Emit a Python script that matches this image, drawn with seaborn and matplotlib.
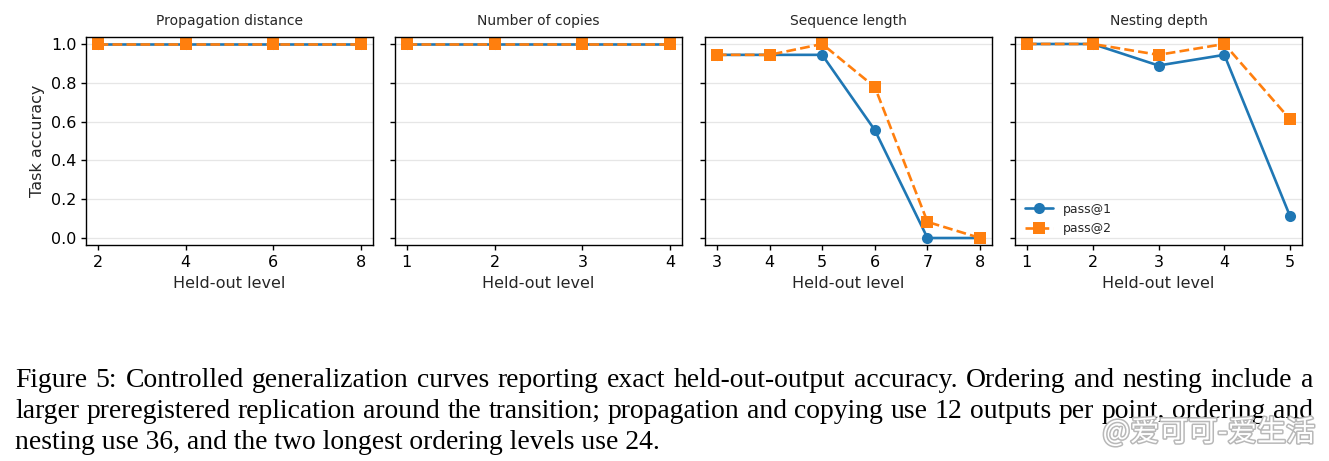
import numpy as np
import pandas as pd
from matplotlib import pyplot as plt
import matplotlib.patheffects as pe
import seaborn as sns

# data
titles = ["Propagation distance", "Number of copies", "Sequence length", "Nesting depth"]
levels_prop = [2, 4, 6, 8]
levels_copy = [1, 2, 3, 4]
levels_seq = [3, 4, 5, 6, 7, 8]
levels_nest = [1, 2, 3, 4, 5]

pass1_prop = [1.0, 1.0, 1.0, 1.0]
pass2_prop = [1.0, 1.0, 1.0, 1.0]
pass1_copy = [1.0, 1.0, 1.0, 1.0]
pass2_copy = [1.0, 1.0, 1.0, 1.0]
pass1_seq = [0.944, 0.944, 0.944, 0.556, 0.0, 0.0]
pass2_seq = [0.944, 0.944, 1.0, 0.778, 0.083, 0.0]
pass1_nest = [1.0, 1.0, 0.889, 0.944, 0.111]
pass2_nest = [1.0, 1.0, 0.944, 1.0, 0.611]

caption_lines = [
    "Figure 5: Controlled generalization curves reporting exact held-out-output accuracy. Ordering and nesting include a",
    "larger preregistered replication around the transition; propagation and copying use 12 outputs per point, ordering and",
    "nesting use 36, and the two longest ordering levels use 24.",
]


def make_df(levels, p1, p2):
    df = pd.DataFrame({"level": levels + levels,
                       "acc": p1 + p2,
                       "metric": ["pass@1"] * len(levels) + ["pass@2"] * len(levels)})
    return df


panels = [
    make_df(levels_prop, pass1_prop, pass2_prop),
    make_df(levels_copy, pass1_copy, pass2_copy),
    make_df(levels_seq, pass1_seq, pass2_seq),
    make_df(levels_nest, pass1_nest, pass2_nest),
]

sns.set_theme(style="ticks", rc={"axes.edgecolor": "black", "xtick.color": "black",
                                  "ytick.color": "black", "axes.linewidth": 1.0})
plt.rcParams["font.family"] = ["DejaVu Sans"]

fig = plt.figure(figsize=(13.29, 4.61), dpi=100)
W, H = 1329, 461
lefts = [86, 395, 705, 1015]
palette = {"pass@1": "#1f77b4", "pass@2": "#ff7f0e"}

for i, (df, title) in enumerate(zip(panels, titles)):
    ax = fig.add_axes([lefts[i] / W, 1 - 245 / H, 287 / W, 208 / H])
    sns.lineplot(data=df, x="level", y="acc", hue="metric", style="metric",
                 palette=palette, markers={"pass@1": "o", "pass@2": "s"},
                 dashes={"pass@1": "", "pass@2": (3.7, 1.6)},
                 markersize=8, markeredgewidth=0, linewidth=1.9, ax=ax)
    ax.set_ylim(-0.036, 1.036)
    ax.set_yticks([0.0, 0.2, 0.4, 0.6, 0.8, 1.0])
    lv = df["level"].unique()
    span = lv.max() - lv.min()
    ax.set_xlim(lv.min() - 0.045 * span, lv.max() + 0.045 * span)
    if i == 0:
        ax.set_xticks([2, 4, 6, 8])
        ax.set_ylabel("Task accuracy", fontsize=11.5)
    else:
        ax.set_xticks(list(lv))
        ax.set_ylabel("")
        ax.set_yticklabels([])
    ax.yaxis.grid(True, color="#e6e6e6", linewidth=0.9)
    ax.set_axisbelow(True)
    ax.set_title(title, fontsize=10, pad=9)
    ax.set_xlabel("Held-out level", fontsize=11.5, labelpad=4.5)
    ax.tick_params(labelsize=11.5, length=3.5, width=1, direction="out")
    for s in ax.spines.values():
        s.set_visible(True)
        s.set_color("black")
    if i == 3:
        ax.legend(loc="lower left", fontsize=9, frameon=False, title=None,
                  handlelength=2.2, borderaxespad=0.4)
    else:
        ax.get_legend().remove()

# caption, justified word by word (last line left as is)
fig.canvas.draw()
renderer = fig.canvas.get_renderer()
x0, x1 = 15, 1313
baselines = [387, 418, 449]
cap_font = dict(fontsize=19.9, family="Liberation Serif", va="baseline", ha="left", color="black")
for j, line in enumerate(caption_lines):
    y = 1 - baselines[j] / H
    if j == len(caption_lines) - 1:
        fig.text(x0 / W, y, line, **cap_font)
        continue
    words = line.split(" ")
    texts = [fig.text(0, y, w, **cap_font) for w in words]
    widths = [t.get_window_extent(renderer).width for t in texts]
    gap = (x1 - x0 - sum(widths)) / (len(words) - 1)
    x = x0
    for t, w in zip(texts, widths):
        t.set_x(x / W)
        x += w + gap

# watermark
fig.text(1315 / W, 1 - 441 / H, "@爱可可-爱生活", fontsize=21, ha="right", va="baseline",
         family=["Noto Sans CJK SC", "DejaVu Sans"], color="white",
         path_effects=[pe.withStroke(linewidth=2.2, foreground="#b8b8b8")])

fig.savefig("out.png", dpi=100)
